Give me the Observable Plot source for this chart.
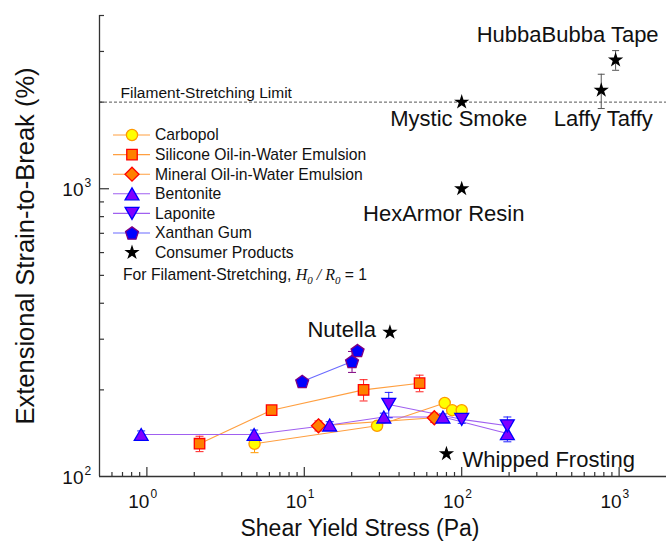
<!DOCTYPE html>
<html>
<head>
<meta charset="utf-8">
<script src="https://cdn.jsdelivr.net/npm/d3@7"></script>
<script src="https://cdn.jsdelivr.net/npm/@observablehq/plot@0.6"></script>
<style>
  body { margin: 0; background: #fff; }
  #chart { position: relative; width: 667px; height: 541px; font-family: "Liberation Sans", Arial, sans-serif; }
  #chart svg { position: absolute; left: 0; top: 0; }
</style>
</head>
<body>
<div id="chart"></div>
<script>
// ---- Measured values: shear yield stress (Pa) vs. extensional strain-to-break (%) ----
const carbopolStress = [4.83, 29, 78, 87, 100];
const carbopolStrain = [130, 150, 180, 170, 170];
const carbopolErr    = [9, 4, 5, 4, 4];

const siliconeStress = [2.16, 6.2, 23.8, 54];
const siliconeStrain = [130, 170, 200, 211];
const siliconeErr    = [8, 4, 17, 14];

const mineralStress = [12.3, 67];
const mineralStrain = [150, 160];
const mineralErr    = [6, 6];

const bentoniteStress = [0.92, 4.8, 14.5, 32, 76, 195];
const bentoniteStrain = [140, 140, 151, 161, 161, 141];
const bentoniteErr    = [4, 5, 4, 5, 4, 9];

const laponiteStress = [34.4, 100, 195];
const laponiteStrain = [178, 158, 150];
const laponiteErr    = [18, 5, 11];

const xanthanStress = [9.7, 20.1, 21.8];
const xanthanStrain = [214, 251, 274];
const xanthanErr    = [0, 21, 7];

const productNames  = ["HubbaBubba Tape", "Laffy Taffy", "Mystic Smoke", "HexArmor Resin", "Nutella", "Whipped Frosting"];
const productStress = [950, 770, 100, 100, 35, 80];
const productStrain = [2800, 2200, 2000, 1000, 317, 120];
const productErr    = [220, 300, 0, 0, 0, 0];

const stretchingLimit = 2000;
const limitLabel = "Filament-Stretching Limit";

// axis ticks
const xMajorTicks = [1, 10, 100, 1000];
const xMajorExponents = ["0", "1", "2", "3"];
const xMinorTicks = [0.6, 0.7, 0.8, 0.9, 2, 3, 4, 5, 6, 7, 8, 9, 20, 30, 40, 50, 60, 70, 80, 90,
                     200, 300, 400, 500, 600, 700, 800, 900];
const yMajorTicks = [100, 1000];
const yMajorExponents = ["2", "3"];
const yMinorTicks = [200, 300, 400, 500, 600, 700, 800, 900, 2000, 3000, 4000];

const xTitle = "Shear Yield Stress (Pa)";
const yTitle = "Extensional Strain-to-Break (%)";

// ---- marker shapes ----
const FONT = "'Liberation Sans', Arial, sans-serif";
function polygonSymbol(n, rotation, shift = 0) {
  return {
    draw(ctx, size) {
      const R = Math.sqrt(size / Math.PI);
      for (let i = 0; i < n; i++) {
        const a = rotation + (i * 2 * Math.PI) / n;
        const px = R * Math.cos(a), py = R * Math.sin(a) + shift * R;
        i ? ctx.lineTo(px, py) : ctx.moveTo(px, py);
      }
      ctx.closePath();
    }
  };
}
const squareSym = polygonSymbol(4, -Math.PI / 4);
const diamondSym = polygonSymbol(4, -Math.PI / 2);
const triUpSym = polygonSymbol(3, -Math.PI / 2, 0.25);
const triDownSym = polygonSymbol(3, Math.PI / 2, -0.25);
const pentagonSym = polygonSymbol(5, -Math.PI / 2, 0.1);
const capSym = {
  draw(ctx, size) {
    const w = Math.sqrt(size / Math.PI);
    ctx.moveTo(-w, 0);
    ctx.lineTo(w, 0);
  }
};

const ORANGE_LINE = "#ff9f40";
const PURPLE_LINE = "#a060f0";
const series = [
  {name: "Carbopol", stress: carbopolStress, strain: carbopolStrain, err: carbopolErr,
   symbol: "circle", r: 5.6, fill: "#ffff00", stroke: "#ff9900", line: ORANGE_LINE, errColor: "#ff9900"},
  {name: "Silicone Oil-in-Water Emulsion", stress: siliconeStress, strain: siliconeStrain, err: siliconeErr,
   symbol: squareSym, r: 7.4, fill: "#ff8000", stroke: "#ff0000", line: ORANGE_LINE, errColor: "#ff2020"},
  {name: "Mineral Oil-in-Water Emulsion", stress: mineralStress, strain: mineralStrain, err: mineralErr,
   symbol: diamondSym, r: 7, fill: "#ff8000", stroke: "#ff0000", line: ORANGE_LINE, errColor: "#ff2020"},
  {name: "Bentonite", stress: bentoniteStress, strain: bentoniteStrain, err: bentoniteErr,
   symbol: triUpSym, r: 8, fill: "#8000ff", stroke: "#0000ff", line: PURPLE_LINE, errColor: "#2020ff"},
  {name: "Laponite", stress: laponiteStress, strain: laponiteStrain, err: laponiteErr,
   symbol: triDownSym, r: 8, fill: "#8000ff", stroke: "#0000ff", line: PURPLE_LINE, errColor: "#2020ff"},
  {name: "Xanthan Gum", stress: xanthanStress, strain: xanthanStrain, err: xanthanErr,
   symbol: pentagonSym, r: 6.8, fill: "#0000ff", stroke: "#800080", line: "#6a6aff", errColor: "#800080"}
];

const rowsOf = s => s.stress.map((x, i) => ({x, y: s.strain[i], e: s.err[i]}));

const products = productNames.map((name, i) => ({name, x: productStress[i], y: productStrain[i], e: productErr[i]}));

const productLabelPlacement = {
  "HubbaBubba Tape":  {textAnchor: "end",    dx: 43,  dy: -25},
  "Laffy Taffy":      {textAnchor: "middle", dx: 2,   dy: 29},
  "Mystic Smoke":     {textAnchor: "middle", dx: -3,  dy: 17},
  "HexArmor Resin":   {textAnchor: "middle", dx: -18, dy: 25},
  "Nutella":          {textAnchor: "end",    dx: -14, dy: -2},
  "Whipped Frosting": {textAnchor: "start",  dx: 16,  dy: 6}
};

// ---- layout ----
const W = 667, H = 541;
const M = {left: 99, right: 1, top: 15, bottom: 65};
const frameW = W - M.left - M.right;
const frameH = H - M.top - M.bottom;
const AXIS = "#333";

const errorMarks = (rows, color, capR) => {
  const withErr = rows.filter(d => d.e > 0);
  return [
    Plot.ruleX(withErr, {x: "x", y1: d => d.y - d.e, y2: d => d.y + d.e, stroke: color, strokeWidth: 1}),
    Plot.dot(withErr, {x: "x", y: d => d.y + d.e, symbol: capSym, r: capR, stroke: color, fill: "none", strokeWidth: 1}),
    Plot.dot(withErr, {x: "x", y: d => d.y - d.e, symbol: capSym, r: capR, stroke: color, fill: "none", strokeWidth: 1})
  ];
};

const marks = [
  // limit line and its label
  Plot.ruleY([stretchingLimit], {stroke: "#444", strokeWidth: 0.9, strokeDasharray: "3,2"}),
  Plot.text([limitLabel], {y: () => stretchingLimit, frameAnchor: "left", text: d => d, textAnchor: "start",
    lineAnchor: "bottom", dx: 21, dy: -4, fontSize: 15.5, fill: "#111"}),

  // axes spines
  Plot.ruleX([0.5], {stroke: AXIS, strokeWidth: 1.3}),
  Plot.ruleY([100], {stroke: AXIS, strokeWidth: 1.3}),

  // inward ticks
  Plot.ruleX(xMajorTicks, {x: d => d, insetTop: frameH - 9, stroke: AXIS, strokeWidth: 1.2}),
  Plot.ruleX(xMinorTicks, {x: d => d, insetTop: frameH - 4, stroke: AXIS, strokeWidth: 1.2}),
  Plot.ruleY([1000], {y: d => d, insetRight: frameW - 10, stroke: AXIS, strokeWidth: 1.2}),
  Plot.ruleY(yMinorTicks, {y: d => d, insetRight: frameW - 5, stroke: AXIS, strokeWidth: 1.2}),

  // tick labels 10^n
  Plot.text(xMajorTicks, {x: d => d, frameAnchor: "bottom", text: () => "10", textAnchor: "end",
    lineAnchor: "bottom", dx: 2.5, dy: 31, fontSize: 19, fill: "#111"}),
  Plot.text(xMajorTicks, {x: d => d, frameAnchor: "bottom", text: (d, i) => xMajorExponents[i], textAnchor: "start",
    lineAnchor: "bottom", dx: 3.5, dy: 21.5, fontSize: 12, fill: "#111"}),
  Plot.text(yMajorTicks, {y: d => d, frameAnchor: "left", text: () => "10", textAnchor: "end",
    lineAnchor: "bottom", dx: -16, dy: 7, fontSize: 19, fill: "#111"}),
  Plot.text(yMajorTicks, {y: d => d, frameAnchor: "left", text: (d, i) => yMajorExponents[i], textAnchor: "start",
    lineAnchor: "bottom", dx: -15, dy: -2, fontSize: 12, fill: "#111"}),

  // axis titles
  Plot.text([xTitle], {frameAnchor: "bottom", text: d => d, textAnchor: "middle", lineAnchor: "bottom",
    dx: -23, dy: 59, fontSize: 23, fill: "#111"}),
  Plot.text([yTitle], {frameAnchor: "left", text: d => d, rotate: -90, textAnchor: "middle", lineAnchor: "bottom",
    dx: -66, dy: 0, fontSize: 25.5, fill: "#111"}),

  // connecting lines
  ...series.map(s => Plot.line(rowsOf(s), {x: "x", y: "y", stroke: s.line, strokeWidth: 1.1})),
  // error bars
  ...series.flatMap(s => errorMarks(rowsOf(s), s.errColor, 4)),
  ...errorMarks(products, "#555", 3.5),
  // markers
  ...series.map(s => Plot.dot(rowsOf(s), {x: "x", y: "y", symbol: s.symbol, r: s.r, fill: s.fill, stroke: s.stroke, strokeWidth: 1.3})),
  Plot.dot(products, {x: "x", y: "y", symbol: "star", r: 4.8, fill: "#000", stroke: "none"}),

  // product labels
  ...products.map(p => Plot.text([p], {x: "x", y: "y", text: "name", fontSize: 22, fill: "#111",
    ...productLabelPlacement[p.name]}))
];

const chart = Plot.plot({
  width: W, height: H,
  marginLeft: M.left, marginRight: M.right, marginTop: M.top, marginBottom: M.bottom,
  x: {type: "log", domain: [0.5, 2000], axis: null},
  y: {type: "log", domain: [100, 4000], axis: null},
  style: {fontFamily: FONT, background: "white", overflow: "visible"},
  marks
});
document.getElementById("chart").appendChild(chart);

// ---- legend, inside the upper-left of the frame ----
const legend = d3.select("#chart").append("svg")
  .attr("width", W).attr("height", H)
  .style("pointer-events", "none")
  .style("font-family", FONT);

const LX = {lineStart: 113, lineEnd: 150, marker: 132, text: 155};
const LY = {first: 135, step: 19.6};
const legendItems = [...series, {name: "Consumer Products", symbol: d3.symbolStar, r: 4.8, fill: "#000", stroke: "none", line: null}];
legendItems.forEach((s, i) => {
  const y = LY.first + i * LY.step;
  const g = legend.append("g");
  if (s.line) {
    g.append("line").attr("x1", LX.lineStart).attr("x2", LX.lineEnd).attr("y1", y).attr("y2", y)
      .attr("stroke", s.line).attr("stroke-width", 1.1);
  }
  const type = s.symbol === "circle" ? d3.symbolCircle : s.symbol;
  g.append("path")
    .attr("d", d3.symbol(type, Math.PI * s.r * s.r)())
    .attr("transform", `translate(${LX.marker},${y})`)
    .attr("fill", s.fill).attr("stroke", s.stroke).attr("stroke-width", 1.3);
  g.append("text").attr("x", LX.text).attr("y", y).attr("dy", "0.35em")
    .attr("font-size", 15.7).attr("fill", "#111").text(s.name);
});

const note = legend.append("text").attr("x", 123).attr("y", LY.first + 7 * LY.step + 2).attr("dy", "0.35em")
  .attr("font-size", 15.7).attr("fill", "#111");
note.append("tspan").text("For Filament-Stretching, ");
const serif = "'Liberation Serif', 'Times New Roman', serif";
note.append("tspan").attr("font-family", serif).attr("font-style", "italic").attr("font-size", 16).text("H");
note.append("tspan").attr("font-family", serif).attr("font-style", "italic").attr("font-size", 11).attr("dy", 4).text("0");
note.append("tspan").attr("font-family", serif).attr("font-style", "italic").attr("font-size", 16).attr("dy", -4).text(" / R");
note.append("tspan").attr("font-family", serif).attr("font-style", "italic").attr("font-size", 11).attr("dy", 4).text("0");
note.append("tspan").attr("dy", -4).text(" = 1");
</script>
</body>
</html>
